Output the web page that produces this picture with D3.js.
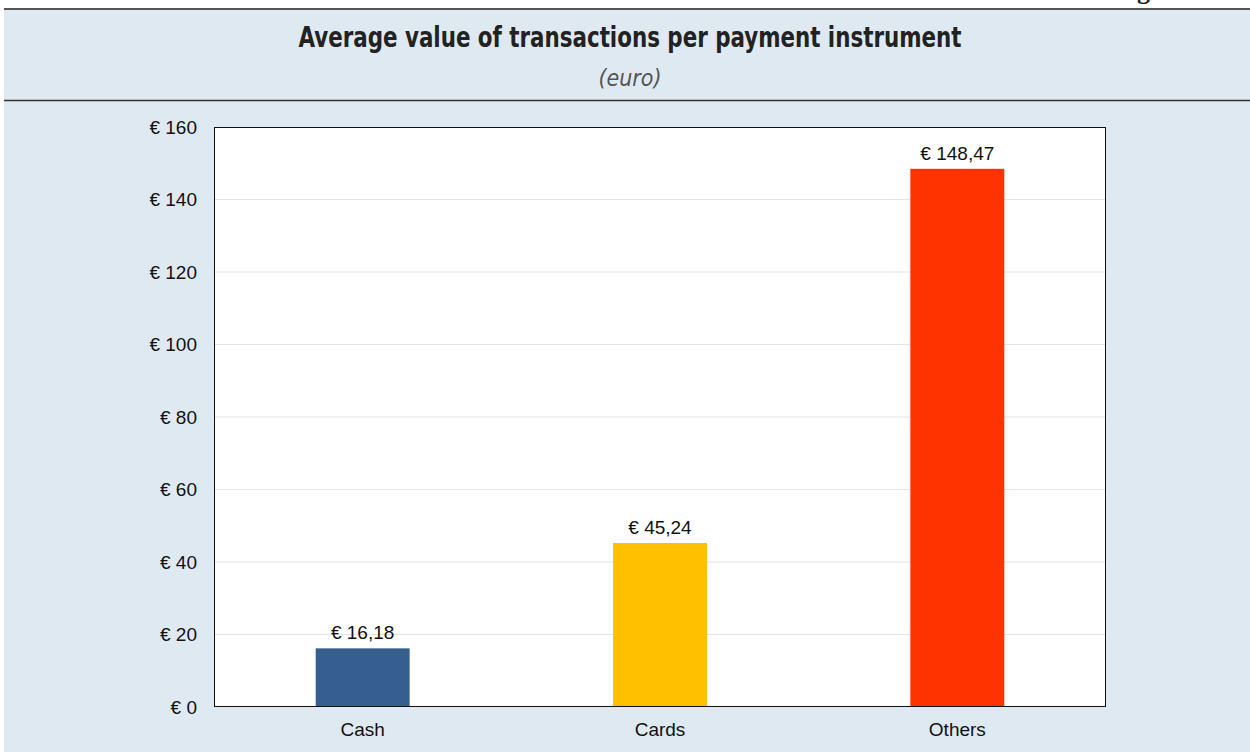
<html>
<meta charset="utf-8">
<style type="text/css">
  body { margin: 0; background: #fff; }
  svg { display: block; }
  .tick text { font: 19px "Liberation Sans", Arial, sans-serif; fill: #111; }
</style>
<body>
<script src="https://d3js.org/d3.v7.min.js"></script>
<div id="chart"></div>
<script>
  // chart data
  const categories = ["Cash", "Cards", "Others"];
  const values = [16.18, 45.24, 148.47];
  const colors = ["#365f8f", "#ffc000", "#ff3300"];
  const yTicks = [0, 20, 40, 60, 80, 100, 120, 140, 160];

  const width = 1250, height = 752;
  const plot = {left: 214, right: 1106, top: 127, bottom: 707};

  const svg = d3.select("#chart").append("svg")
    .attr("width", width)
    .attr("height", height);

  // panel background
  svg.append("rect")
    .attr("x", 4).attr("y", 9)
    .attr("width", width - 4).attr("height", height - 9)
    .style("fill", "#dfe9f2");

  // bottom of a glyph from the page above, mostly off the top edge
  svg.append("text")
    .attr("x", 1137).attr("y", -1)
    .style("font", "bold 26px 'Liberation Serif', serif")
    .style("fill", "#222")
    .text("g");

  svg.append("line")
    .attr("x1", 4).attr("x2", width)
    .attr("y1", 9).attr("y2", 9)
    .style("stroke", "#555").style("stroke-width", 2);

  svg.append("line")
    .attr("x1", 4).attr("x2", width)
    .attr("y1", 100.5).attr("y2", 100.5)
    .style("stroke", "#333").style("stroke-width", 1.5);

  // titles
  svg.append("text")
    .attr("x", 630).attr("y", 47)
    .attr("text-anchor", "middle")
    .attr("textLength", 663)
    .attr("lengthAdjust", "spacingAndGlyphs")
    .style("font", "bold 28px 'DejaVu Sans Condensed', 'DejaVu Sans', sans-serif")
    .style("fill", "#222")
    .text("Average value of transactions per payment instrument");

  svg.append("text")
    .attr("x", 630).attr("y", 86)
    .attr("text-anchor", "middle")
    .style("font", "italic 23px 'DejaVu Sans Condensed', 'DejaVu Sans', sans-serif")
    .style("fill", "#555")
    .text("(euro)");

  const x = d3.scaleBand()
    .domain(categories)
    .range([plot.left, plot.right])
    .paddingInner(0.684)
    .paddingOuter(0.342);

  const y = d3.scaleLinear()
    .domain([0, 160])
    .range([plot.bottom, plot.top]);

  // plot area
  svg.append("rect")
    .attr("x", plot.left).attr("y", plot.top)
    .attr("width", plot.right - plot.left).attr("height", plot.bottom - plot.top)
    .style("fill", "#fff");

  svg.append("g")
    .selectAll("line")
    .data(yTicks.slice(1, -1))
    .enter()
    .append("line")
    .attr("x1", plot.left).attr("x2", plot.right)
    .attr("y1", d => y(d)).attr("y2", d => y(d))
    .style("stroke", "#e3e3e3").style("stroke-width", 1);

  svg.append("g")
    .selectAll("rect")
    .data(values)
    .enter()
    .append("rect")
    .attr("x", (d, i) => x(categories[i]))
    .attr("y", d => y(d))
    .attr("width", x.bandwidth())
    .attr("height", d => y(0) - y(d))
    .style("fill", (d, i) => colors[i]);

  const euro = d => "€ " + d.toFixed(2).replace(".", ",");

  svg.append("g")
    .selectAll("text")
    .data(values)
    .enter()
    .append("text")
    .attr("x", (d, i) => x(categories[i]) + x.bandwidth() / 2)
    .attr("y", d => y(d) - 9)
    .attr("text-anchor", "middle")
    .style("font", "19px 'Liberation Sans', Arial, sans-serif")
    .style("fill", "#111")
    .text(euro);

  svg.append("rect")
    .attr("x", plot.left + 0.5).attr("y", plot.top + 0.5)
    .attr("width", plot.right - plot.left - 1).attr("height", plot.bottom - plot.top - 1)
    .style("fill", "none")
    .style("stroke", "#111").style("stroke-width", 1);

  // axes
  svg.append("g")
    .attr("transform", "translate(" + plot.left + ",0)")
    .call(d3.axisLeft(y).tickValues(yTicks).tickSize(0).tickPadding(17)
      .tickFormat(d => "€ " + d))
    .call(g => g.select(".domain").remove());

  svg.append("g")
    .attr("transform", "translate(0," + plot.bottom + ")")
    .call(d3.axisBottom(x).tickSize(0).tickPadding(16))
    .call(g => g.select(".domain").remove());
</script>
</body>
</html>
